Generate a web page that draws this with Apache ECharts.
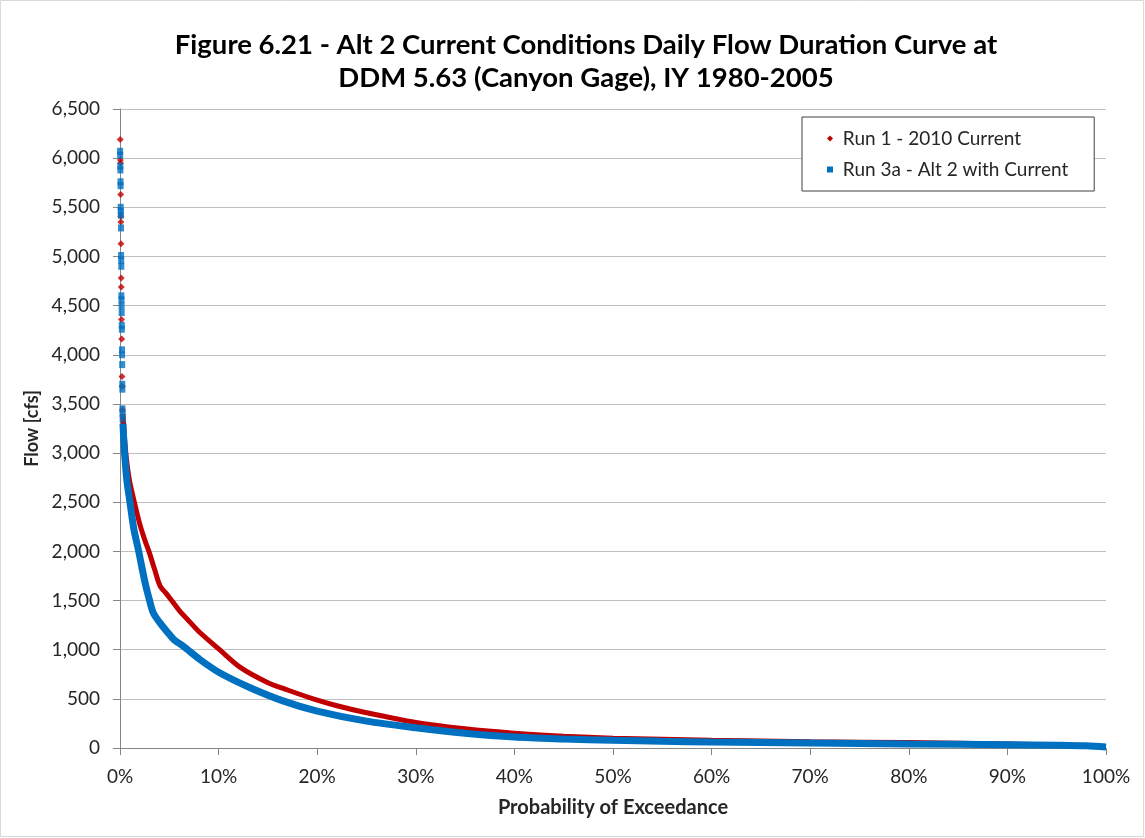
<!DOCTYPE html>
<html><head><meta charset="utf-8">
<script src="https://cdn.jsdelivr.net/npm/echarts@6/dist/echarts.min.js"></script>
<style>html,body{margin:0;padding:0;background:#fff}#c{width:1145px;height:838px}</style>
</head><body><div id="c"></div>
<script>
// Tick labels
const xTicks = [0,10,20,30,40,50,60,70,80,90,100];
const yTicks = [0,500,1000,1500,2000,2500,3000,3500,4000,4500,5000,5500,6000,6500];
const seriesNames = ['Run 1 - 2010 Current', 'Run 3a - Alt 2 with Current'];

// Run 1: isolated high-flow days (x = % exceedance, y = cfs)
const run1Peaks = [[0.02,6190],[0.04,5980],[0.05,5950],[0.07,5630],[0.08,5410],[0.09,5350],[0.10,5130],[0.12,4780],[0.13,4690],[0.15,4360],[0.17,4160],[0.20,3780],[0.22,3680],[0.25,3440]];
// Run 1: continuous part of the curve
const run1Curve = [[0.3,3400],[0.5,3100],[0.7,2900],[1.0,2700],[1.46,2500],[2.0,2280],[2.5,2120],[3.0,1980],[3.5,1820],[4.06,1650],[4.7,1570],[5.24,1500],[6.0,1400],[7.1,1280],[8.1,1175],[10.1,1000],[12.2,820],[14.9,670],[17.0,590],[19.6,500],[22,430],[25,359],[30,260],[35,195],[40,150],[45,120],[50,100],[55,88],[60,78],[70,64],[80,55],[90,40],[100,15]];

// Run 3a: isolated high-flow days
const run3aPeaks = [[0.01,6070],[0.02,6030],[0.03,5920],[0.04,5880],[0.05,5760],[0.06,5720],[0.07,5500],[0.08,5460],[0.09,5420],[0.10,5290],[0.11,5010],[0.12,4960],[0.13,4900],[0.14,4600],[0.15,4560],[0.16,4500],[0.17,4430],[0.18,4300],[0.19,4260],[0.20,4050],[0.21,4000],[0.22,3900],[0.23,3700],[0.24,3650],[0.25,3450],[0.26,3400],[0.27,3350]];
// Run 3a: continuous part of the curve
const run3aCurve = [[0.3,3300],[0.4,3100],[0.5,2950],[0.7,2720],[1.01,2500],[1.4,2230],[1.86,2018],[2.54,1683],[3.0,1500],[3.38,1375],[4.0,1280],[4.73,1188],[5.5,1100],[6.42,1035],[8.1,900],[10.1,765],[13.2,613],[16.6,477],[20,375],[25,273],[30,206],[35,150],[40,111],[45,92],[50,78],[55,68],[60,61],[70,51],[80,41],[90,34],[95,28],[98,22],[100,10]];

const RED = '#C00000', BLUE = '#0070C0';
const FONT = 'Lato';
const TXT = '#262626';
const chart = echarts.init(document.getElementById('c'), null, {renderer:'canvas'});
chart.setOption({
  backgroundColor:'#fff',
  animation:false,
  textStyle:{fontFamily:FONT},
  title:{
    text:'Figure 6.21 - Alt 2 Current Conditions Daily Flow Duration Curve at\nDDM 5.63 (Canyon Gage), IY 1980-2005',
    left:581, top:24, textAlign:'center',
    textStyle:{fontFamily:FONT, fontSize:27.5, fontWeight:'bold', color:'#000', lineHeight:33}
  },
  legend:{
    orient:'vertical', left:802, top:117,
    data:[{name:seriesNames[0], icon:'diamond'},{name:seriesNames[1], icon:'rect'}],
    formatter: n => ' ' + n,
    itemWidth:6, itemHeight:6, itemGap:12,
    padding:[12,26,12,25],
    borderColor:'#404040', borderWidth:1, backgroundColor:'#fff',
    textStyle:{fontFamily:FONT, fontSize:19, color:TXT}
  },
  grid:{left:120, right:39, top:109, bottom:90, containLabel:false},
  xAxis:{
    type:'value', min:0, max:100, interval:10,
    name:'Probability of Exceedance', nameLocation:'middle', nameGap:50,
    nameTextStyle:{fontFamily:FONT, fontSize:20, fontWeight:'bold', color:TXT},
    axisLine:{lineStyle:{color:'#868686'}},
    axisTick:{show:true, length:7, lineStyle:{color:'#868686'}},
    splitLine:{show:false},
    axisLabel:{fontFamily:FONT, fontSize:19, color:TXT, margin:19,
      formatter:v => xTicks.includes(v) ? v + '%' : ''}
  },
  yAxis:{
    type:'value', min:0, max:6500, interval:500,
    name:'Flow [cfs]', nameLocation:'middle', nameGap:78, nameRotate:90,
    nameTextStyle:{fontFamily:FONT, fontSize:18, fontWeight:'bold', color:TXT},
    axisLine:{show:true, lineStyle:{color:'#868686'}},
    axisTick:{show:true, length:7, lineStyle:{color:'#868686'}},
    splitLine:{lineStyle:{color:'#BFBFBF'}},
    axisLabel:{fontFamily:FONT, fontSize:19, color:TXT, margin:20,
      formatter:v => yTicks.includes(v) ? v.toLocaleString('en-US') : ''}
  },
  series:[
    {name:seriesNames[0], type:'line', data:run1Curve, smooth:0.3, showSymbol:false, symbol:'diamond',
     itemStyle:{color:RED}, lineStyle:{color:RED, width:5}, z:2},
    {name:seriesNames[0], type:'scatter', data:run1Peaks, symbol:'diamond', symbolSize:7,
     itemStyle:{color:RED}, z:2},
    {name:seriesNames[1], type:'line', data:run3aCurve, smooth:0.3, showSymbol:false, symbol:'rect',
     itemStyle:{color:BLUE}, lineStyle:{color:BLUE, width:7}, z:3},
    {name:seriesNames[1], type:'scatter', data:run3aPeaks, symbol:'rect', symbolSize:[6,7],
     itemStyle:{color:BLUE}, z:3}
  ],
  graphic:[{type:'rect', shape:{x:0.5,y:0.5,width:1143,height:836}, style:{fill:null, stroke:'#D9D9D9', lineWidth:1}, silent:true}]
});
</script></body></html>
